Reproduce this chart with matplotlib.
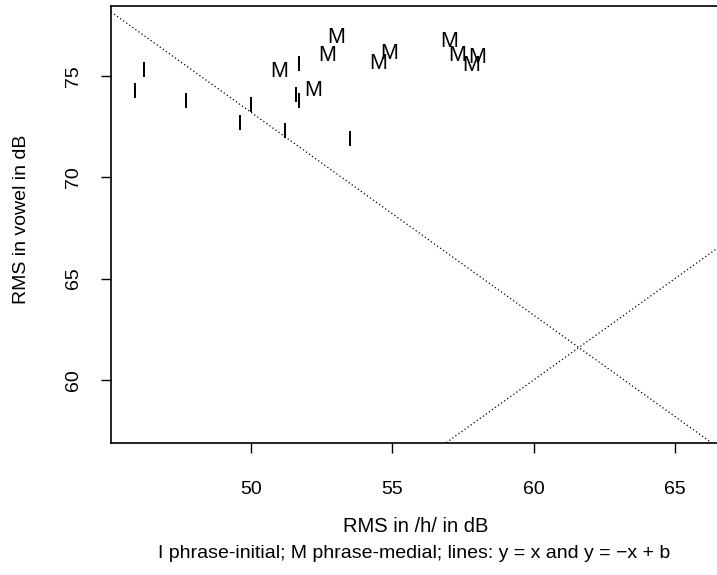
import matplotlib
matplotlib.use("Agg")
import matplotlib.pyplot as plt
import numpy as np

plt.rcParams['font.family'] = ['Liberation Sans', 'DejaVu Sans']

# phrase-initial tokens (I)
init_x = [46.2, 45.9, 47.7, 50.0, 49.6, 51.2, 53.5, 51.7, 51.6, 51.7]
init_y = [75.2, 74.2, 73.7, 73.5, 72.6, 72.2, 71.8, 75.5, 74.0, 73.7]
# phrase-medial tokens (M)
med_x = [51.0, 53.0, 52.7, 52.2, 54.5, 54.9, 57.0, 57.3, 57.8, 58.0]
med_y = [75.2, 76.9, 76.0, 74.3, 75.6, 76.1, 76.7, 76.0, 75.5, 75.9]

b = 123.2
xticks = [50, 55, 60, 65]
yticks = [60, 65, 70, 75]

fig = plt.figure(figsize=(7.17, 5.75), dpi=100)
ax = fig.add_axes([111/717, 132/575, (717-111)/717, (443-6)/575])

for x, y in zip(init_x, init_y):
    ax.text(x, y, "I", ha='center', va='center', fontsize=15.5)
for x, y in zip(med_x, med_y):
    ax.text(x, y, "M", ha='center', va='center', fontsize=15.5)

xl = (45.04, 66.49)
yl = (56.89, 78.45)
xs = np.array(xl)
ax.plot(xs, xs, color='black', lw=0.9, ls=(0, (1, 2)))
ax.plot(xs, -xs + b, color='black', lw=0.9, ls=(0, (1, 2)))

ax.set_xlim(*xl)
ax.set_ylim(*yl)
ax.set_xticks(xticks)
ax.set_yticks(yticks)
ax.tick_params(direction='out', length=7, width=1, labelsize=14)
ax.tick_params(axis='x', pad=20)
ax.tick_params(axis='y', pad=14)
for t in ax.get_yticklabels():
    t.set_rotation(90)
    t.set_va('center')
ax.spines['right'].set_visible(False)
for s in ['left', 'bottom', 'top']:
    ax.spines[s].set_linewidth(1.2)

fig.text(416/717, 1 - 527/575, "RMS in /h/ in dB", ha='center', va='center', fontsize=14.5)
fig.text(414/717, 1 - 553/575, "I phrase-initial; M phrase-medial; lines: y = x and y = \u2212x + b",
         ha='center', va='center', fontsize=14)
fig.text(22/717, 1 - 219/575, "RMS in vowel in dB", ha='center', va='center', rotation=90, fontsize=14)

fig.savefig("out.png", dpi=100)
